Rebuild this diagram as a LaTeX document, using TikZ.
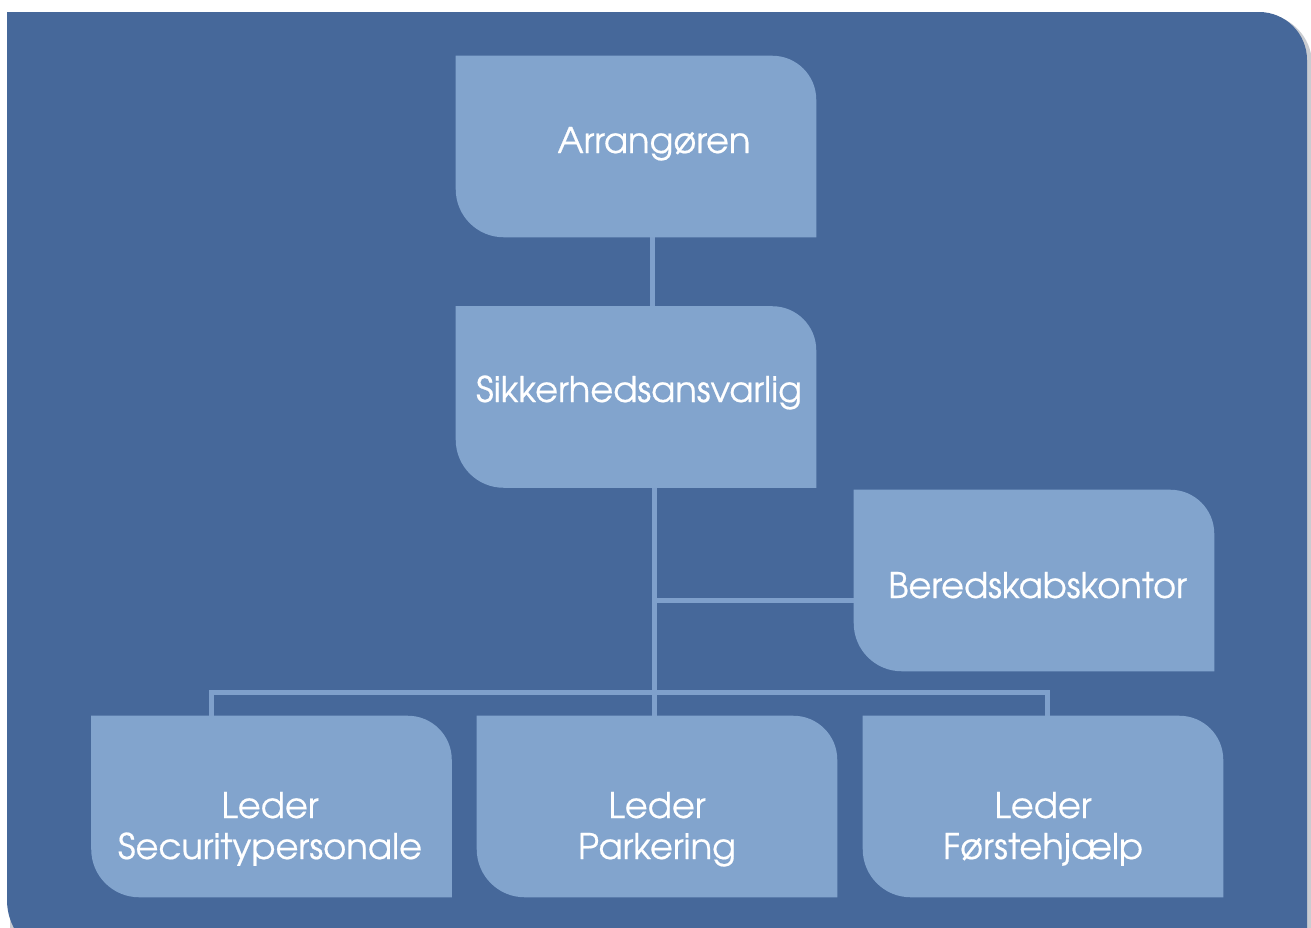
\documentclass[tikz,border=0pt]{standalone}
\usepackage{fontspec}
\setmainfont[FakeBold=0.5]{TeX Gyre Adventor}
\usetikzlibrary{calc}
\definecolor{bgblue}{HTML}{46689A}
\definecolor{boxblue}{HTML}{82A4CD}
\definecolor{lineblue}{HTML}{7FA0CB}
\definecolor{shadowgray}{HTML}{C9CCD1}
\tikzset{
  orgbox/.style={rectangle, inner sep=0pt, minimum width=270pt, minimum height=135.75pt},
  orgtext/.style={text=white, font=\fontsize{26.5}{30.75}\selectfont, inner sep=0pt, anchor=base, align=center},
  conn/.style={draw=lineblue, line width=3.75pt},
}
\newcommand{\fillorgbox}[1]{%
  \fill[boxblue] (#1.north west) -- ([xshift=-33pt]#1.north east)
    arc[start angle=90,end angle=0,radius=33pt] -- (#1.south east)
    -- ([xshift=36pt]#1.south west)
    arc[start angle=270,end angle=180,radius=36pt] -- cycle;}
\begin{document}
\begin{tikzpicture}[x=0.75pt,y=-0.75pt]
\useasboundingbox (0,0) rectangle (1311,928);
\begin{scope}
\clip (0,0) rectangle (1311,928);
% shadow
\fill[shadowgray] (10,14) -- (1262,14) arc[start angle=90,end angle=0,radius=37.5pt] -- (1311,960) -- (10,960) -- cycle;
% background
\fill[bgblue] (7,12) -- (1259,12) arc[start angle=90,end angle=0,radius=36pt] -- (1307,960) -- (67,960) arc[start angle=270,end angle=180,radius=45pt] -- cycle;
\end{scope}
% boxes
\node[orgbox] (arr) at (636,146.5) {};
\node[orgbox] (sik) at (636,397) {};
\node[orgbox] (ber) at (1034,580.5) {};
\node[orgbox] (sec) at (271.5,806.5) {};
\node[orgbox] (par) at (657,806.5) {};
\node[orgbox] (fhj) at (1043,806.5) {};
% junction coordinates
\coordinate (j1) at (654,600);
\coordinate (j2) at (654,692);
\coordinate (bl) at (211,692);
\coordinate (br) at (1047,692);
% connectors
\draw[conn] ([xshift=12pt]arr.south) -- ([xshift=12pt]sik.north);
\draw[conn] ([xshift=13.5pt]sik.south) -- (j2);
\draw[conn] (j1) -- (ber.west |- j1);
\draw[conn] (sec.north -| bl) -- (bl) -- (br) -- (fhj.north -| br);
\draw[conn] (j2) -- (par.north -| j2);
% box fills
\fillorgbox{arr}
\fillorgbox{sik}
\fillorgbox{ber}
\fillorgbox{sec}
\fillorgbox{par}
\fillorgbox{fhj}
% texts
\node[orgtext] (tarr) at (654,153) {Arrangøren};
\node[orgtext] (tsik) at (639,402) {Sikkerhedsansvarlig};
\node[orgtext] (tber) at (1037.5,598) {Beredskabskontor};
\node[orgtext] (tsec) at (270,859) {Leder\\Securitypersonale};
\node[orgtext] (tpar) at (657,859) {Leder\\Parkering};
\node[orgtext] (tfhj) at (1043,859) {Leder\\Førstehjælp};
\end{tikzpicture}
\end{document}
